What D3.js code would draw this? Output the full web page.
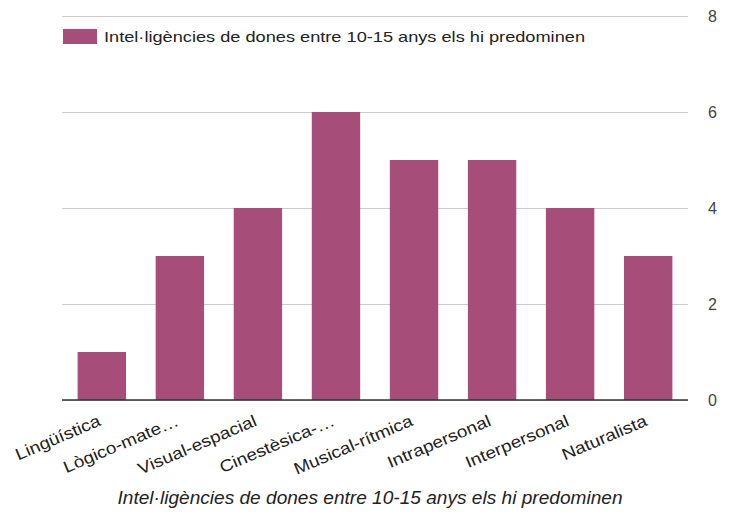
<!DOCTYPE html>
<meta charset="utf-8">
<style>
 body{ margin:0; background:#fff; }
 svg{ font-family: "Liberation Sans", Arial, sans-serif; background:#fff; }
 .grid line{ stroke:#cccccc; }
 .grid .domain{ display:none; }
</style>
<body>
<svg width="732" height="518"></svg>
</body>
<script src="https://d3js.org/d3.v7.min.js"></script>
<script>

var categories = ["Lingüística", "Lògico-mate…", "Visual-espacial", "Cinestèsica-…",
                  "Musical-rítmica", "Intrapersonal", "Interpersonal", "Naturalista"];
var values = [1, 3, 4, 6, 5, 5, 4, 3];
var yTicks = [0, 2, 4, 6, 8];
var seriesName = "Intel·ligències de dones entre 10-15 anys els hi predominen";
var axisTitle = "Intel·ligències de dones entre 10-15 anys els hi predominen";

var svg = d3.select("svg"),
    margin = {left: 62, right: 44, top: 16, bottom: 118},
    width = +svg.attr("width") - margin.left - margin.right,
    height = +svg.attr("height") - margin.top - margin.bottom,
    g = svg.append("g").attr("transform", "translate(" + margin.left + "," + margin.top + ")");

var x = d3.scaleBand()
    .domain(categories)
    .range([0, width])
    .paddingInner(0.38)
    .paddingOuter(0.2);

var y = d3.scaleLinear()
    .domain([0, 8])
    .range([height, 0]);

// gridlines
g.append("g")
    .attr("class", "grid")
    .call(d3.axisLeft(y).tickValues(yTicks).tickSize(-width).tickFormat(""));

// right axis labels
g.selectAll(".ylab")
    .data(yTicks)
    .enter().append("text")
    .attr("class", "ylab")
    .attr("x", width + 20)
    .attr("y", function(d){ return y(d); })
    .attr("dy", "0.35em")
    .attr("text-anchor", "start")
    .style("font-size", "16px")
    .style("fill", "#444")
    .text(function(d){ return d; });

// bars
g.selectAll(".bar")
    .data(values)
    .enter().append("rect")
    .attr("class", "bar")
    .attr("x", function(d, i){ return x(categories[i]); })
    .attr("width", x.bandwidth())
    .attr("y", function(d){ return y(d); })
    .attr("height", function(d){ return height - y(d); })
    .style("fill", "#a64d79");

// baseline
g.append("line")
    .attr("x1", 0).attr("x2", width)
    .attr("y1", y(0)).attr("y2", y(0))
    .style("stroke", "#333")
    .style("stroke-width", 1.5);

// x labels, slanted (a bit stretched along the baseline like the original)
g.selectAll(".xlab")
    .data(categories)
    .enter().append("text")
    .attr("class", "xlab")
    .attr("transform", function(d){
        return "translate(" + (x(d) + x.bandwidth() / 2) + "," + (height + 25) + ") rotate(-23) scale(1.15,1)";
    })
    .attr("text-anchor", "end")
    .style("font-size", "16.5px")
    .style("fill", "#222")
    .text(function(d){ return d; });

// axis title
svg.append("text")
    .attr("x", 370)
    .attr("y", 504)
    .attr("text-anchor", "middle")
    .attr("textLength", 505)
    .attr("lengthAdjust", "spacingAndGlyphs")
    .style("font-size", "18px")
    .style("font-style", "italic")
    .style("fill", "#222")
    .text(axisTitle);

// legend
var legend = svg.append("g").attr("transform", "translate(63,29)");
legend.append("rect")
    .attr("width", 34).attr("height", 15)
    .style("fill", "#a64d79");
legend.append("text")
    .attr("x", 41).attr("y", 8)
    .attr("dy", "0.35em")
    .attr("textLength", 481)
    .attr("lengthAdjust", "spacingAndGlyphs")
    .style("font-size", "15px")
    .style("fill", "#222")
    .text(seriesName);

</script>
</html>
